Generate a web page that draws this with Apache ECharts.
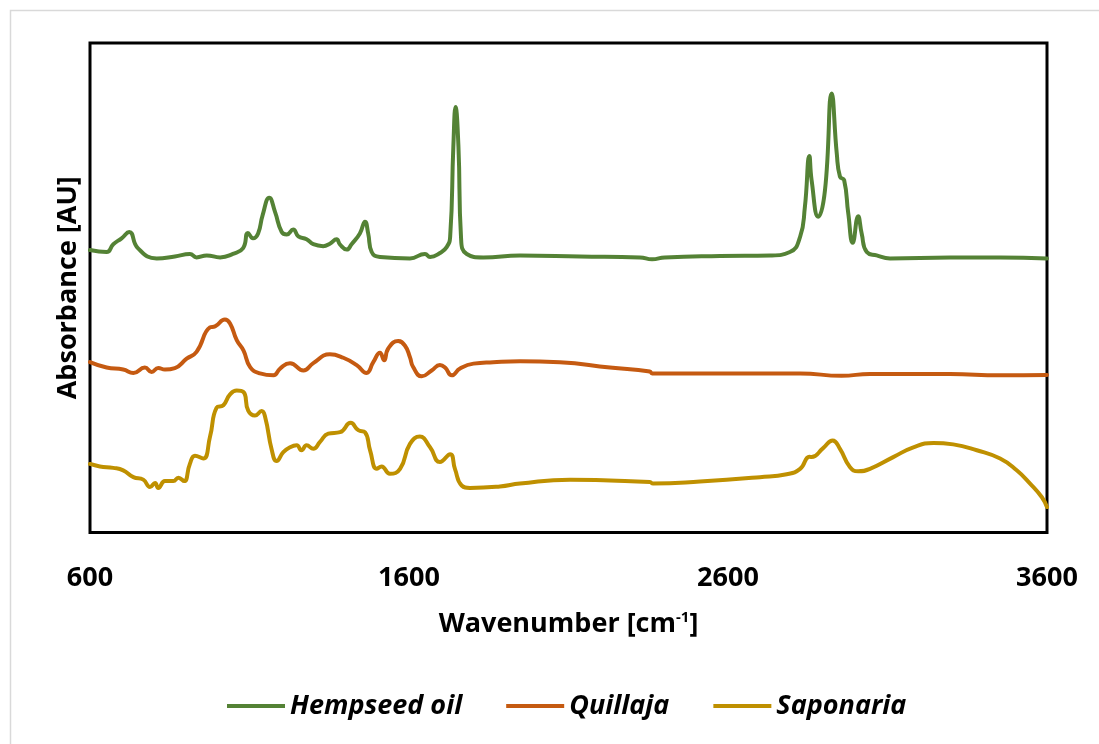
<!DOCTYPE html>
<html>
<head>
<meta charset="utf-8">
<script src="https://cdn.jsdelivr.net/npm/echarts@6/dist/echarts.min.js"></script>
<style>
  html, body { margin: 0; padding: 0; background: #fff; }
  #chart { width: 1099px; height: 744px; }
</style>
</head>
<body>
<div id="chart"></div>
<script>
// FTIR spectra, stacked with an offset per sample (arbitrary absorbance units)
const xTicks = [600, 1600, 2600, 3600];

const hempWn = [600, 652, 673, 699, 723, 750, 809, 866, 913, 934, 966, 1008, 1048, 1080, 1095, 1111, 1127, 1141, 1162, 1180, 1201,
  1217, 1237, 1253, 1279, 1300, 1331, 1352, 1373, 1384, 1405, 1420, 1446, 1462, 1472, 1483, 1509, 1603, 1650, 1666, 1697,
  1718, 1729, 1739, 1746, 1755, 1763, 1781, 1833, 1948, 2136, 2324, 2362, 2402, 2575, 2732, 2794, 2826, 2841, 2855, 2862,
  2883, 2904, 2925, 2941, 2951, 2964, 2977, 2991, 3008, 3019, 3035, 3066, 3108, 3296, 3453, 3600];
const hempAbs = [0.577, 0.573, 0.589, 0.601, 0.614, 0.581, 0.560, 0.564, 0.569, 0.562, 0.566, 0.562, 0.569, 0.581, 0.612, 0.601, 0.611, 0.648, 0.684, 0.655, 0.614,
  0.609, 0.619, 0.605, 0.599, 0.589, 0.585, 0.590, 0.599, 0.588, 0.578, 0.589, 0.611, 0.635, 0.611, 0.573, 0.563, 0.560, 0.569, 0.563, 0.571,
  0.583, 0.604, 0.788, 0.869, 0.788, 0.604, 0.569, 0.562, 0.566, 0.564, 0.562, 0.558, 0.562, 0.565, 0.566, 0.573, 0.604, 0.665, 0.769, 0.720,
  0.645, 0.699, 0.897, 0.774, 0.727, 0.720, 0.652, 0.592, 0.646, 0.611, 0.573, 0.566, 0.560, 0.562, 0.562, 0.560];

const quillajaWn = [600, 652, 704, 736, 772, 793, 814, 835, 866, 903, 934, 976, 992, 1023, 1039, 1060, 1081, 1102, 1133, 1175,
  1196, 1227, 1269, 1300, 1352, 1394, 1436, 1467, 1488, 1509, 1522, 1535, 1566, 1587, 1603, 1613, 1640, 1671, 1697, 1713,
  1734, 1760, 1802, 1864, 1948, 2073, 2230, 2355, 2362, 2512, 2826, 2956, 3045, 3296, 3453, 3600];
const quillajaAbs = [0.348, 0.337, 0.333, 0.326, 0.337, 0.328, 0.336, 0.333, 0.336, 0.355, 0.369, 0.419, 0.421, 0.435, 0.427, 0.393, 0.372, 0.338, 0.325, 0.321,
  0.335, 0.346, 0.331, 0.346, 0.364, 0.357, 0.342, 0.326, 0.348, 0.367, 0.352, 0.376, 0.391, 0.382, 0.358, 0.338, 0.319, 0.331, 0.342, 0.337,
  0.321, 0.335, 0.345, 0.348, 0.350, 0.348, 0.337, 0.329, 0.325, 0.325, 0.325, 0.320, 0.324, 0.324, 0.321, 0.322];

const saponariaWn = [600, 631, 673, 704, 736, 767, 788, 804, 814, 835, 861, 877, 895, 913, 929, 955, 976, 997, 1018, 1039,
  1060, 1081, 1096, 1117, 1138, 1149, 1170, 1185, 1206, 1227, 1248, 1263, 1279, 1300, 1321, 1347, 1384, 1417, 1441, 1462,
  1478, 1499, 1514, 1540, 1572, 1603, 1634, 1666, 1697, 1729, 1744, 1765, 1791, 1885, 1948, 2105, 2230, 2355, 2365, 2512,
  2700, 2784, 2826, 2855, 2862, 2899, 2928, 2951, 2982, 3008, 3045, 3118, 3181, 3244, 3306, 3380, 3453, 3505, 3547, 3584, 3600];
const saponariaAbs = [0.140, 0.135, 0.132, 0.127, 0.113, 0.108, 0.093, 0.101, 0.091, 0.105, 0.105, 0.112, 0.105, 0.140, 0.157, 0.151, 0.195, 0.255, 0.260, 0.282,
  0.290, 0.287, 0.249, 0.239, 0.248, 0.236, 0.168, 0.146, 0.164, 0.174, 0.178, 0.168, 0.178, 0.171, 0.185, 0.202, 0.205, 0.224, 0.209, 0.205,
  0.168, 0.130, 0.135, 0.120, 0.130, 0.181, 0.196, 0.174, 0.144, 0.160, 0.130, 0.096, 0.091, 0.094, 0.100, 0.108, 0.106, 0.103, 0.100, 0.104,
  0.113, 0.119, 0.130, 0.155, 0.154, 0.173, 0.188, 0.171, 0.134, 0.125, 0.130, 0.154, 0.174, 0.183, 0.180, 0.168, 0.151, 0.127, 0.100, 0.072, 0.052];

const seriesNames = ['Hempseed oil', 'Quillaja', 'Saponaria'];
const seriesColors = ['#548235', '#C55A11', '#BF9000'];

const pairs = (xs, ys) => xs.map((x, i) => [x, ys[i]]);
const spectra = [pairs(hempWn, hempAbs), pairs(quillajaWn, quillajaAbs), pairs(saponariaWn, saponariaAbs)];

const FONT = '"Open Sans", "Noto Sans", sans-serif';

const chart = echarts.init(document.getElementById('chart'), null, { renderer: 'canvas' });
chart.setOption({
  backgroundColor: '#fff',
  animation: false,
  graphic: [{
    type: 'rect',
    shape: { x: 10.5, y: 10.5, width: 1200, height: 900 },
    style: { fill: 'none', stroke: '#d9d9d9', lineWidth: 1.5 },
    silent: true,
    z: -1
  }],
  grid: {
    left: 90, right: 52, top: 43, bottom: 211.5,
    show: true, borderColor: '#000', borderWidth: 3, backgroundColor: 'transparent'
  },
  legend: {
    left: 222, top: 686,
    icon: 'rect', itemWidth: 58, itemHeight: 4, itemGap: 44,
    textStyle: { fontFamily: FONT, fontSize: 27, fontStyle: 'italic', fontWeight: 'bold', color: '#000', lineHeight: 30 },
    data: seriesNames
  },
  xAxis: {
    type: 'value', min: xTicks[0], max: xTicks[xTicks.length - 1], interval: 1000,
    axisLine: { show: false }, axisTick: { show: false }, splitLine: { show: false },
    axisLabel: { margin: 32, fontFamily: FONT, fontSize: 27, fontWeight: 'bold', color: '#000', formatter: v => String(v) },
    name: 'Wavenumber [cm{sup|-1}]',
    nameLocation: 'middle', nameGap: 78,
    nameTextStyle: {
      fontFamily: FONT, fontSize: 27, fontWeight: 'bold', color: '#000',
      rich: { sup: { fontFamily: FONT, fontSize: 15, fontWeight: 'bold', color: '#000', verticalAlign: 'top', padding: [0, 0, 12, 0] } }
    }
  },
  yAxis: {
    type: 'value', min: 0, max: 1,
    axisLine: { show: false }, axisTick: { show: false }, splitLine: { show: false }, axisLabel: { show: false },
    name: 'Absorbance [AU]', nameLocation: 'middle', nameGap: 8,
    nameTextStyle: { fontFamily: FONT, fontSize: 27, fontWeight: 'bold', color: '#000' }
  },
  series: seriesNames.map((name, i) => ({
    name, type: 'line', data: spectra[i],
    showSymbol: false, symbol: 'none',
    smooth: 0.5,
    lineStyle: { color: seriesColors[i], width: 4, join: 'round', cap: 'round' },
    itemStyle: { color: seriesColors[i] },
    clip: true
  }))
});
</script>
</body>
</html>
